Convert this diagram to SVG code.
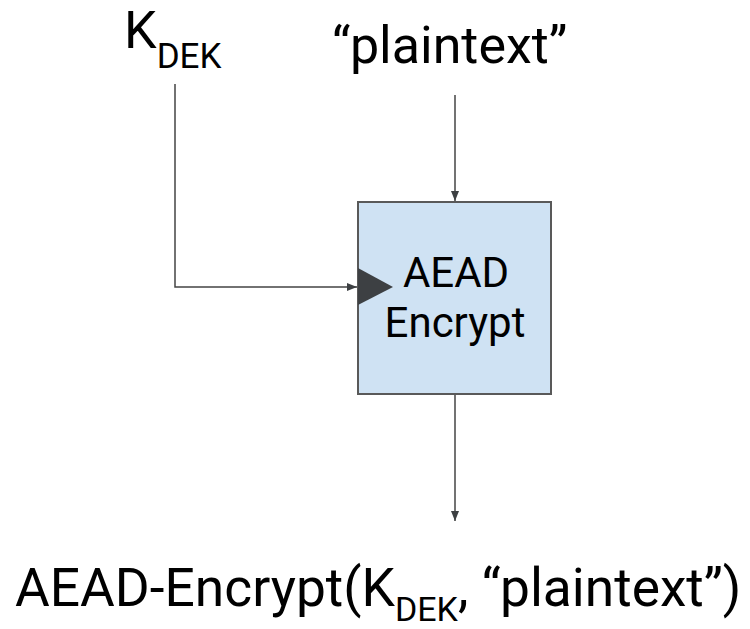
<svg xmlns="http://www.w3.org/2000/svg" width="750" height="629" viewBox="0 0 750 629">
<style>
text{font-family:Roboto,"Liberation Sans",sans-serif;fill:#000}
.big{font-size:52px}
.sub{font-size:35px}
.box{font-size:42px}
.out{font-size:53.3px}
.osub{font-size:34px}
.line{stroke:#444;stroke-width:1.5;fill:none}
</style>
<defs>
<marker id="ah" viewBox="0 0 10 10" refX="10" refY="5" markerWidth="10" markerHeight="10" markerUnits="userSpaceOnUse" orient="auto">
<path d="M0,1 L10,5 L0,9 Z" fill="#3d4043"/>
</marker>
</defs>
<rect width="750" height="629" fill="#fff"/>
<g id="connectors">
<path class="line" d="M175,84 V287 H357" marker-end="url(#ah)"/>
<path class="line" d="M455,95 V201" marker-end="url(#ah)"/>
<path class="line" d="M455,394 V521" marker-end="url(#ah)"/>
</g>
<g id="kdek">
<text x="124" y="48" class="big">K<tspan class="sub" dy="20">DEK</tspan></text>
</g>
<g id="plaintext">
<text x="332" y="63" class="big">“plaintext”</text>
</g>
<g id="aead">
<rect x="358" y="202" width="193" height="192" fill="#cfe2f3" stroke="#595959" stroke-width="2"/>
<path d="M358,268 L393,287 L358,305 Z" fill="#3d4043"/>
<text x="456" y="287" class="box" text-anchor="middle">AEAD</text>
<text x="455" y="337" class="box" text-anchor="middle">Encrypt</text>
</g>
<g id="output">
<text x="15" y="606" class="out">AEAD-Encrypt(K<tspan class="osub" dy="15">DEK</tspan><tspan dy="-15">, “plaintext”)</tspan></text>
</g>
</svg>
